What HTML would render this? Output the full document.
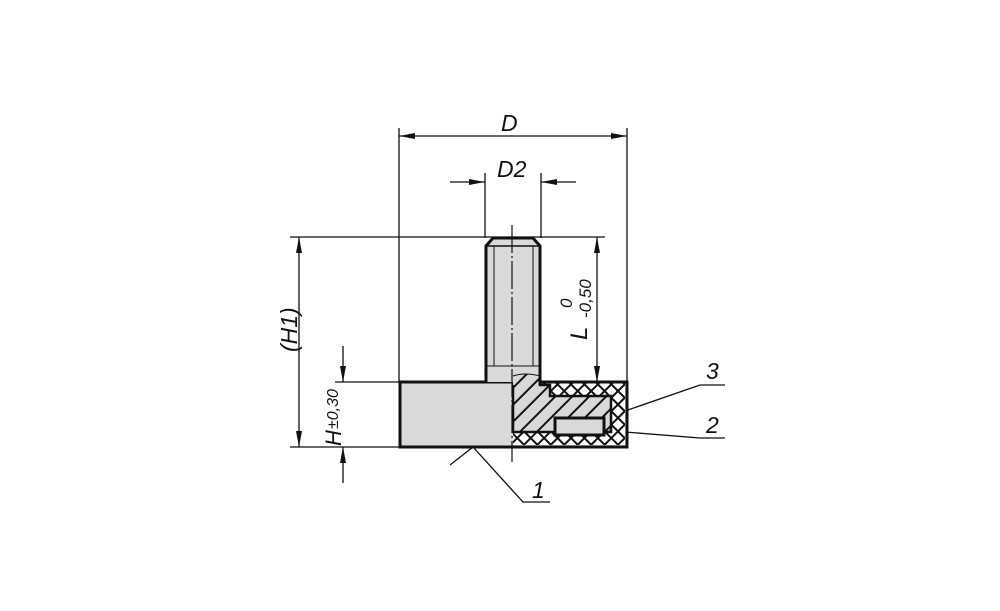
<!DOCTYPE html>
<html><head><style>body{margin:0;background:#fff}svg{display:block}text{font-family:"Liberation Sans",sans-serif;font-style:italic;fill:#111}</style></head>
<body><svg width="1000" height="611" viewBox="0 0 1000 611" xmlns="http://www.w3.org/2000/svg">
<defs>
<pattern id="h" patternUnits="userSpaceOnUse" width="12" height="12" patternTransform="rotate(45)"><rect width="12" height="12" fill="#d9d9d9"/><line x1="1" y1="0" x2="1" y2="12" stroke="#111" stroke-width="2"/></pattern>
<pattern id="x" patternUnits="userSpaceOnUse" width="9.5" height="9.5" patternTransform="rotate(45)"><rect width="9.5" height="9.5" fill="#fff"/><path d="M0 1H9.5M1 0V9.5" stroke="#111" stroke-width="2"/></pattern>
<marker id="a" markerWidth="16" markerHeight="6" refX="16" refY="3" orient="auto" markerUnits="userSpaceOnUse"><path d="M0 0L16 3L0 6z" fill="#111"/></marker>
</defs>
<g stroke="#111" stroke-width="1.3" fill="none">
<line x1="399" y1="128" x2="399" y2="382"/>
<line x1="627" y1="128" x2="627" y2="382"/>
<line x1="485" y1="173" x2="485" y2="238"/>
<line x1="541" y1="173" x2="541" y2="238"/>
<line x1="290" y1="237" x2="605" y2="237"/>
<line x1="290" y1="447" x2="400" y2="447"/>
<line x1="335" y1="382" x2="400" y2="382"/>
<line x1="513" y1="136" x2="627" y2="136" marker-end="url(#a)"/>
<line x1="513" y1="136" x2="399" y2="136" marker-end="url(#a)"/>
<line x1="450" y1="182" x2="485" y2="182" marker-end="url(#a)"/>
<line x1="576" y1="182" x2="541" y2="182" marker-end="url(#a)"/>
<line x1="299" y1="342" x2="299" y2="237" marker-end="url(#a)"/>
<line x1="299" y1="342" x2="299" y2="447" marker-end="url(#a)"/>
<line x1="343" y1="346" x2="343" y2="382" marker-end="url(#a)"/>
<line x1="343" y1="483" x2="343" y2="447" marker-end="url(#a)"/>
<line x1="597" y1="310" x2="597" y2="237" marker-end="url(#a)"/>
<line x1="597" y1="310" x2="597" y2="382" marker-end="url(#a)"/>
<polyline points="622,412 700,385 725,385"/>
<polyline points="600,430 700,438 725,438"/>
<polyline points="450,465 473,447 523,502 550,502"/>
</g>
<rect x="400" y="382" width="227" height="65" fill="#d9d9d9" stroke="#111" stroke-width="3"/>
<rect x="513" y="383" width="112" height="62" fill="url(#x)"/>
<path d="M513 376 Q525 372 540 376 L540 385 L550 385 L550 396 L611 396 L611 432 L513 432 Z" fill="url(#h)" stroke="#111" stroke-width="2.5"/>
<rect x="555" y="418" width="49" height="17" fill="#d9d9d9" stroke="#111" stroke-width="3"/>
<path d="M400 382H627V447H400Z" fill="none" stroke="#111" stroke-width="3"/>
<path d="M486 382V246L493 238H533L540 246V382" fill="#d9d9d9" stroke="#111" stroke-width="3"/>
<line x1="486" y1="246" x2="540" y2="246" stroke="#111" stroke-width="1.5"/>
<line x1="494" y1="246" x2="494" y2="366" stroke="#111" stroke-width="1"/>
<line x1="533" y1="246" x2="533" y2="366" stroke="#111" stroke-width="1"/>
<line x1="486" y1="366" x2="540" y2="366" stroke="#111" stroke-width="1"/>
<path d="M513 376 Q525 372 540 376 L540 385 L513 385Z" fill="url(#h)"/>
<path d="M513 376 Q525 372 540 376" fill="none" stroke="#111" stroke-width="1"/>
<line x1="540" y1="376" x2="540" y2="385" stroke="#111" stroke-width="3"/>
<line x1="512" y1="225" x2="512" y2="462" stroke="#111" stroke-width="1.2" stroke-dasharray="28,3,2,3"/>
<text x="501" y="131" font-size="23">D</text>
<text x="497" y="177" font-size="23">D2</text>
<text transform="translate(297,352) rotate(-90)" font-size="23">(H1)</text>
<text transform="translate(341,446) rotate(-90)" font-size="22">H</text>
<text transform="translate(338,429) rotate(-90)" font-size="16">±0,30</text>
<text transform="translate(587,340) rotate(-90)" font-size="24">L</text>
<text transform="translate(572,308) rotate(-90)" font-size="17">0</text>
<text transform="translate(591,318) rotate(-90)" font-size="17">-0,50</text>
<text x="706" y="379" font-size="23">3</text>
<text x="706" y="433" font-size="23">2</text>
<text x="532" y="498" font-size="23">1</text>
</svg></body></html>
